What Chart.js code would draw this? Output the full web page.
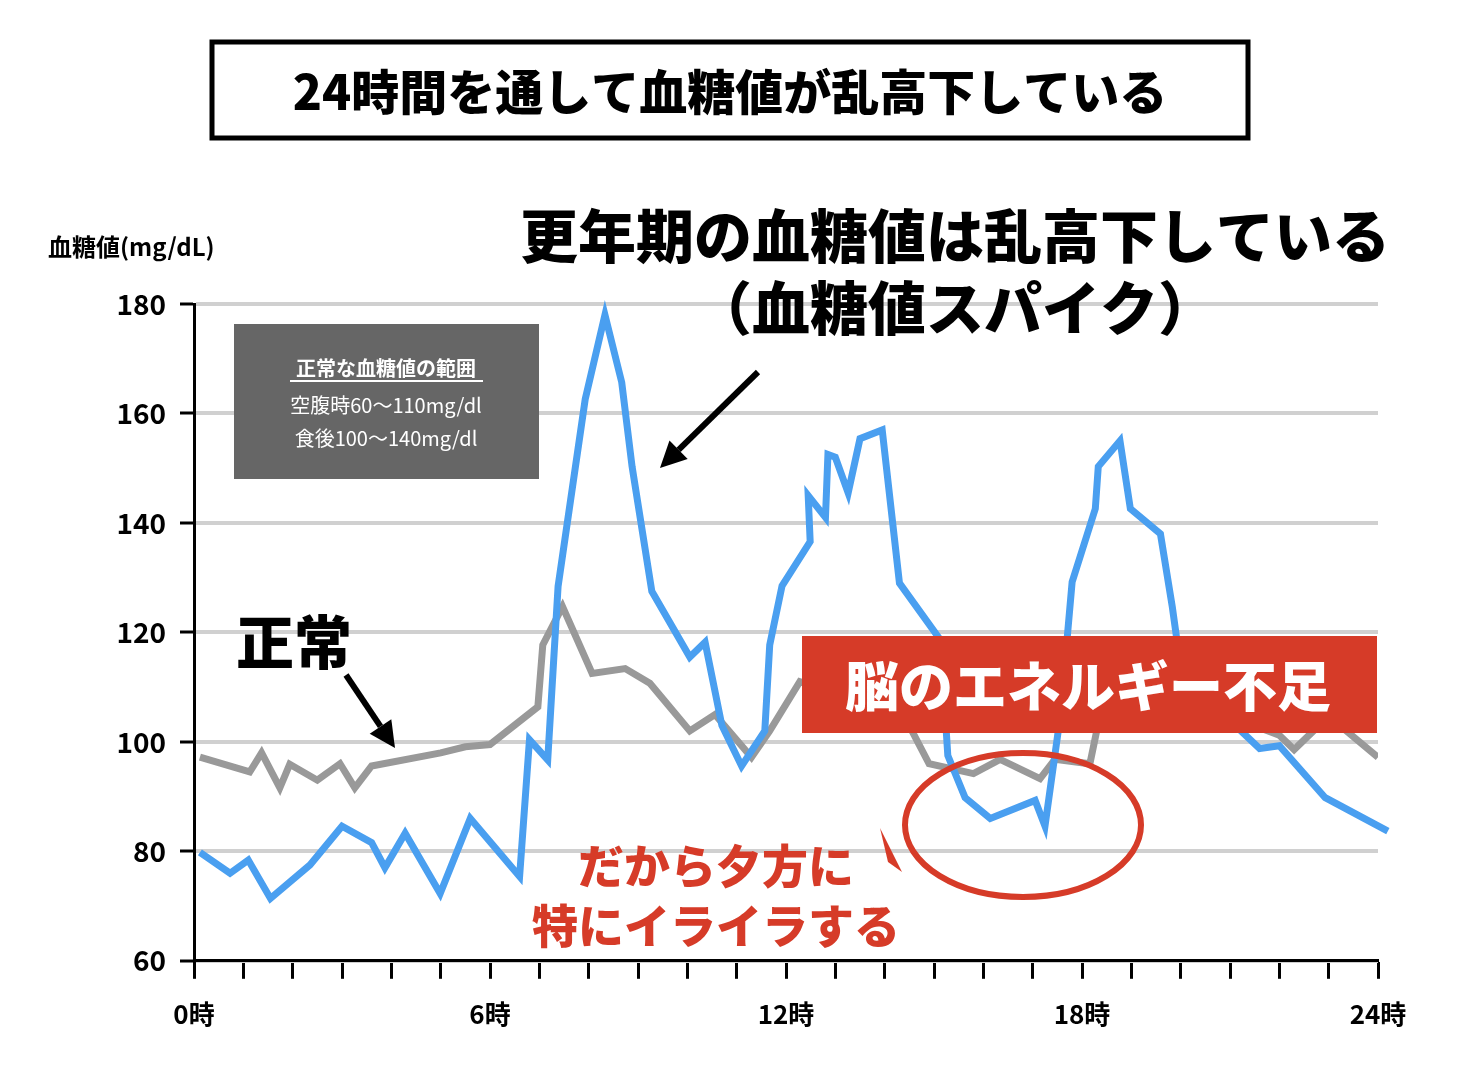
<!DOCTYPE html>
<html><head><meta charset="utf-8">
<script src="https://cdn.jsdelivr.net/npm/chart.js@4"></script>
<style>html,body{margin:0;padding:0;background:#fff}#w{width:1464px;height:1088px}</style>
</head><body><div id="w"><canvas id="c"></canvas></div>
<script>
const FONT='"Noto Sans CJK JP","Noto Sans",sans-serif';
const xTickLabels={0:'0時',6:'6時',12:'12時',18:'18時',24:'24時'};
const yTicks=[60,80,100,120,140,160,180];
const spikeHours=[0.12,0.73,1.1,1.55,2.35,3.0,3.6,3.87,4.28,4.99,5.6,6.6,6.8,7.17,7.38,7.93,8.33,8.67,8.88,9.28,10.05,10.36,10.7,11.1,11.57,11.67,11.92,12.49,12.45,12.8,12.85,13.0,13.26,13.5,13.95,14.3,15.13,15.28,15.63,16.14,17.05,17.25,17.56,17.8,18.27,18.33,18.77,18.98,19.59,19.83,19.95,21.2,21.6,22.0,22.93,24.2];
const spikeValues=[79.8,76,78.4,71.4,77.5,84.6,81.6,77,83.3,72.3,86,75.4,100.4,96.7,128.4,162.6,178,165.7,150.3,127.5,115.5,118.2,103,95.6,102,117.7,128.5,136.6,145,141,152.5,152,145.5,155.4,157,129,118.6,97.5,89.8,86,89.3,84.6,104.7,129.2,142.6,150.3,155,142.6,138,124.7,116.9,102.2,98.8,99.3,89.8,83.7];
const normalHours=[0.12,1.13,1.37,1.74,1.94,2.5,2.96,3.26,3.6,5.0,5.5,6.0,6.97,7.07,7.47,8.07,8.74,9.24,10.05,10.56,11.3,11.67,12.28,13.3,14.3,14.9,15.8,16.34,17.15,17.45,18.16,18.36,20.0,22.0,22.3,23.0,24.0];
const normalValues=[97.2,94.5,98,91.6,95.9,93,96,91.6,95.6,98,99.1,99.5,106.4,117.7,124.7,112.5,113.4,110.7,102,105,97.2,102,111,108,106.4,96,94.2,96.8,93.3,96.8,96,104.7,108,101.2,98.6,104.7,97.2];
const toPts=(h,v)=>h.map((x,i)=>({x,y:v[i]}));

function arrow(ctx,x1,y1,x2,y2){
  ctx.save();ctx.strokeStyle='#000';ctx.fillStyle='#000';ctx.lineWidth=6;
  const a=Math.atan2(y2-y1,x2-x1),L=26;
  const bx=x2-L*Math.cos(a),by=y2-L*Math.sin(a);
  ctx.beginPath();ctx.moveTo(x1,y1);ctx.lineTo(bx,by);ctx.stroke();
  ctx.beginPath();ctx.moveTo(x2,y2);
  ctx.lineTo(bx+13*Math.sin(a),by-13*Math.cos(a));
  ctx.lineTo(bx-13*Math.sin(a),by+13*Math.cos(a));ctx.closePath();ctx.fill();ctx.restore();
}
const deco={id:'deco',afterDraw(chart){
  const ctx=chart.ctx;ctx.save();
  ctx.lineWidth=5;ctx.strokeStyle='#000';ctx.strokeRect(212,42,1036,96);
  ctx.fillStyle='#000';ctx.textAlign='center';ctx.textBaseline='middle';
  ctx.font='900 48px '+FONT;ctx.fillText('24時間を通して血糖値が乱高下している',730,92);
  ctx.font='900 58px '+FONT;
  ctx.fillText('更年期の血糖値は乱高下している',955,236);
  ctx.fillText('（血糖値スパイク）',955,308);
  ctx.textAlign='left';ctx.font='bold 24px '+FONT;ctx.fillText('血糖値(mg/dL)',48,247);
  ctx.font='900 58px '+FONT;ctx.fillText('正常',236,642);
  ctx.fillStyle='#666';ctx.fillRect(234,324,305,155);
  ctx.fillStyle='#fff';ctx.textAlign='center';
  ctx.font='bold 20px '+FONT;ctx.fillText('正常な血糖値の範囲',386,368);
  ctx.fillRect(290,380,193,2);
  ctx.font='20px '+FONT;ctx.fillText('空腹時60〜110mg/dl',386,405);ctx.fillText('食後100〜140mg/dl',386,438);
  ctx.fillStyle='#d63b28';ctx.fillRect(802,636,575,97);
  ctx.fillStyle='#fff';ctx.font='900 54px '+FONT;ctx.fillText('脳のエネルギー不足',1088,686);
  ctx.strokeStyle='#d63b28';ctx.lineWidth=6;ctx.beginPath();ctx.ellipse(1023,825,118,72,0,0,Math.PI*2);ctx.stroke();
  ctx.fillStyle='#d63b28';ctx.font='900 46px '+FONT;
  ctx.fillText('だから夕方に',716,866);ctx.fillText('特にイライラする',716,926);
  ctx.beginPath();ctx.moveTo(880,828);ctx.lineTo(902,872);ctx.lineTo(888,862);ctx.closePath();ctx.fill();
  arrow(ctx,758,372,660,468);
  arrow(ctx,346,675,395,748);
  ctx.restore();
}};
new Chart(document.getElementById('c'),{
  type:'line',
  data:{datasets:[
    {data:toPts(normalHours,normalValues),borderColor:'#999',borderWidth:7,pointRadius:0,tension:0,order:2},
    {data:toPts(spikeHours,spikeValues),borderColor:'#4a9ff0',borderWidth:7,pointRadius:0,tension:0,order:1,clip:{left:0,right:20,top:20,bottom:0}}
  ]},
  options:{responsive:true,maintainAspectRatio:false,animation:false,
    layout:{padding:{left:20,right:86,top:304,bottom:38}},
    plugins:{legend:{display:false},tooltip:{enabled:false}},
    scales:{
      x:{type:'linear',min:0,max:24,
        ticks:{stepSize:1,autoSkip:false,maxRotation:0,color:'#000',font:{family:FONT,size:26,weight:'bold'},padding:20,
          callback:v=>xTickLabels[v]||''},
        grid:{drawOnChartArea:false,tickLength:18,tickColor:'#000',tickWidth:3},
        border:{color:'#000',width:3}},
      y:{min:60,max:180,afterBuildTicks:s=>{s.ticks=yTicks.map(v=>({value:v}))},
        afterFit:s=>{s.width=174},
        ticks:{color:'#000',font:{family:FONT,size:28,weight:'bold'},padding:14},
        grid:{color:'#d0d0d0',lineWidth:4,tickColor:'#000',tickWidth:3,tickLength:14},
        border:{color:'#000',width:3}}
    }},
  plugins:[deco]
});
</script></body></html>
